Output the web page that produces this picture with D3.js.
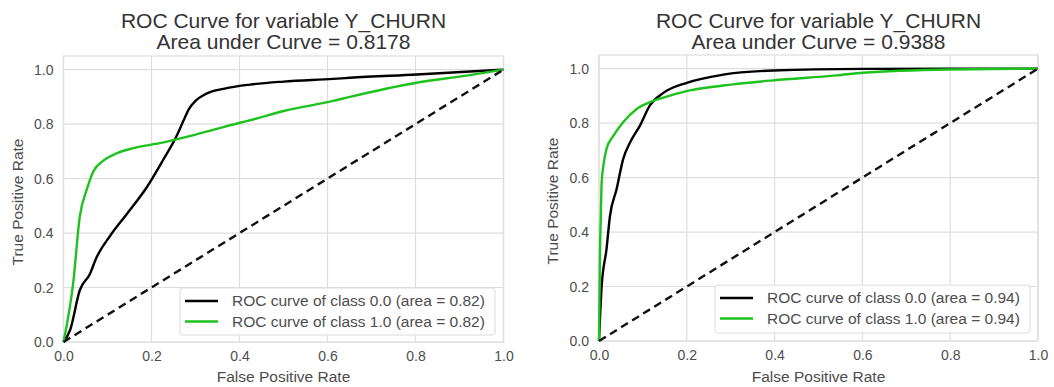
<!DOCTYPE html>
<html>
<head>
<meta charset="utf-8">
<script src="https://cdn.jsdelivr.net/npm/d3@7"></script>
<style>
  html, body { margin: 0; padding: 0; background: #fff; }
  svg { display: block; font-family: "Liberation Sans", Arial, Helvetica, sans-serif; }
</style>
</head>
<body>
<svg id="chart" width="1054" height="387"></svg>
<script>
// ---- data ----
const tickValues = [0.0, 0.2, 0.4, 0.6, 0.8, 1.0];
const tickLabels = ["0.0", "0.2", "0.4", "0.6", "0.8", "1.0"];
const titles = ["ROC Curve for variable Y_CHURN", "ROC Curve for variable Y_CHURN"];
const aucTexts = ["Area under Curve = 0.8178", "Area under Curve = 0.9388"];
const seriesNames = ["ROC curve of class 0.0", "ROC curve of class 1.0"];
const areasLeft = [0.82, 0.82];
const areasRight = [0.94, 0.94];

// left panel, class 0.0 : [fpr, tpr]
const leftClass0 = [
  [0,0],[0.015,0.044],[0.037,0.19],[0.06,0.25],[0.075,0.31],[0.106,0.39],
  [0.144,0.47],[0.19,0.57],[0.227,0.67],[0.257,0.756],[0.272,0.81],[0.285,0.855],
  [0.3,0.885],[0.325,0.912],[0.371,0.932],[0.424,0.945],[0.5,0.956],[0.613,0.966],
  [0.651,0.97],[0.803,0.982],[1,1]
];
// left panel, class 1.0
const leftClass1 = [
  [0,0],[0.022,0.216],[0.037,0.46],[0.053,0.56],[0.068,0.627],[0.09,0.665],
  [0.121,0.693],[0.159,0.712],[0.219,0.73],[0.287,0.756],[0.401,0.805],
  [0.431,0.817],[0.5,0.848],[0.613,0.885],[0.651,0.9],[0.803,0.952],
  [0.916,0.978],[1,1]
];
// right panel, class 0.0
const rightClass0 = [
  [0,0],[0.006,0.2],[0.017,0.336],[0.025,0.459],[0.04,0.557],[0.055,0.668],
  [0.071,0.73],[0.093,0.79],[0.116,0.865],[0.146,0.91],[0.2,0.948],
  [0.283,0.978],[0.397,0.993],[0.6,0.999],[1,1]
];
// right panel, class 1.0
const rightClass1 = [
  [0,0],[0.002,0.3],[0.004,0.45],[0.006,0.58],[0.01,0.643],[0.017,0.705],
  [0.033,0.754],[0.055,0.803],[0.086,0.852],[0.116,0.877],[0.162,0.901],
  [0.207,0.92],[0.283,0.938],[0.397,0.957],[0.541,0.975],[0.602,0.985],
  [0.8,0.997],[1,1]
];
const diagonal = [[0,0],[1,1]];

const colors = ["#000000", "#1ec21e"];

// ---- layout ----
const panels = [
  { x0: 63.5, x1: 503.5, yTop: 56, yBot: 342, title: titles[0], auc: aucTexts[0],
    series: [leftClass0, leftClass1], areas: areasLeft,
    legend: { x: 180, y: 288, w: 315, h: 47 } },
  { x0: 599, x1: 1038, yTop: 55, yBot: 341, title: titles[1], auc: aucTexts[1],
    series: [rightClass0, rightClass1], areas: areasRight,
    legend: { x: 715, y: 285, w: 315, h: 48 } }
];

const svg = d3.select("#chart");

panels.forEach(p => {
  const x = d3.scaleLinear().domain([0, 1]).range([p.x0, p.x1]);
  const y = d3.scaleLinear().domain([0, 1.05]).range([p.yBot, p.yTop]);
  const g = svg.append("g");

  // grid
  g.selectAll(".vg").data(tickValues).enter().append("line")
    .attr("x1", d => x(d)).attr("x2", d => x(d))
    .attr("y1", p.yTop).attr("y2", p.yBot)
    .attr("stroke", "#dedede").attr("stroke-width", 1.2);
  g.selectAll(".hg").data(tickValues).enter().append("line")
    .attr("y1", d => y(d)).attr("y2", d => y(d))
    .attr("x1", p.x0).attr("x2", p.x1)
    .attr("stroke", "#dedede").attr("stroke-width", 1.2);
  // frame
  g.append("rect").attr("x", p.x0).attr("y", p.yTop)
    .attr("width", p.x1 - p.x0).attr("height", p.yBot - p.yTop)
    .attr("fill", "none").attr("stroke", "#dedede").attr("stroke-width", 1.2);

  // axes (text only via d3 axis)
  const xAxis = d3.axisBottom(x).tickValues(tickValues)
    .tickFormat((d, i) => tickLabels[i]).tickSize(0).tickPadding(9);
  const yAxis = d3.axisLeft(y).tickValues(tickValues)
    .tickFormat((d, i) => tickLabels[i]).tickSize(0).tickPadding(10);
  const xa = g.append("g").attr("transform", `translate(0,${p.yBot})`).call(xAxis);
  const ya = g.append("g").attr("transform", `translate(${p.x0},0)`).call(yAxis);
  [xa, ya].forEach(a => {
    a.select(".domain").remove();
    a.selectAll("text").attr("font-size", "14px").attr("fill", "#4d4d4d")
      .attr("font-family", "Liberation Sans, Arial, sans-serif");
  });

  // axis labels
  g.append("text").attr("x", (p.x0 + p.x1) / 2).attr("y", 382)
    .attr("text-anchor", "middle").attr("font-size", "15.5px").attr("fill", "#4d4d4d")
    .text("False Positive Rate");
  g.append("text")
    .attr("transform", `translate(${p.x0 - 41},${(p.yTop + p.yBot) / 2 + 3}) rotate(-90)`)
    .attr("text-anchor", "middle").attr("font-size", "15.5px").attr("fill", "#4d4d4d")
    .text("True Positive Rate");

  // titles
  g.append("text").attr("x", (p.x0 + p.x1) / 2).attr("y", 28)
    .attr("text-anchor", "middle").attr("font-size", "21px").attr("fill", "#333")
    .text(p.title);
  g.append("text").attr("x", (p.x0 + p.x1) / 2).attr("y", 49)
    .attr("text-anchor", "middle").attr("font-size", "21px").attr("fill", "#333")
    .text(p.auc);

  const line = d3.line().x(d => x(d[0])).y(d => y(d[1])).curve(d3.curveMonotoneX);

  // curves
  p.series.forEach((s, i) => {
    g.append("path").datum(s).attr("d", line)
      .attr("fill", "none").attr("stroke", colors[i]).attr("stroke-width", 2.4)
      .attr("stroke-linejoin", "round");
  });
  // diagonal
  g.append("path").datum(diagonal).attr("d", d3.line().x(d => x(d[0])).y(d => y(d[1])))
    .attr("fill", "none").attr("stroke", "#111").attr("stroke-width", 2.4)
    .attr("stroke-dasharray", "8,5");

  // legend
  const L = p.legend;
  const lg = g.append("g");
  lg.append("rect").attr("x", L.x).attr("y", L.y).attr("width", L.w).attr("height", L.h)
    .attr("rx", 3).attr("fill", "rgba(255,255,255,0.85)")
    .attr("stroke", "#dcdcdc").attr("stroke-width", 1);
  seriesNames.forEach((n, i) => {
    const ry = L.y + 13 + i * 20.5;
    lg.append("line").attr("x1", L.x + 5).attr("x2", L.x + 38)
      .attr("y1", ry).attr("y2", ry)
      .attr("stroke", colors[i]).attr("stroke-width", 2.4);
    lg.append("text").attr("x", L.x + 52).attr("y", ry + 5)
      .attr("font-size", "15.5px").attr("fill", "#4d4d4d")
      .text(`${n} (area = ${p.areas[i].toFixed(2)})`);
  });
});
</script>
</body>
</html>
